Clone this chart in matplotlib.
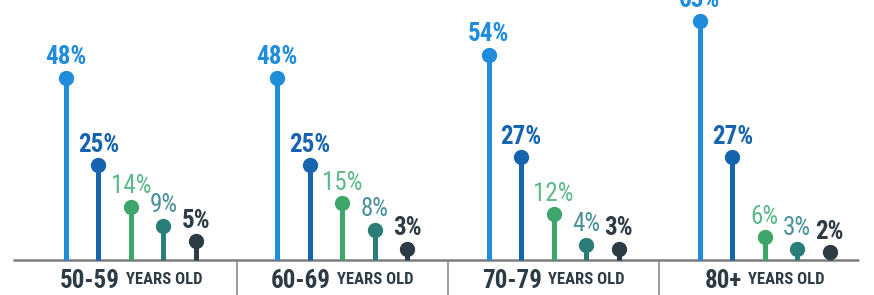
import matplotlib
matplotlib.use('Agg')
import matplotlib.pyplot as plt
from matplotlib import font_manager

# prefer a condensed face if one is installed
names = {f.name for f in font_manager.fontManager.ttflist}
cond = [n for n in ['Liberation Sans Narrow', 'DejaVu Sans Condensed', 'Roboto Condensed',
                    'Open Sans Condensed'] if n in names]
plt.rcParams['font.family'] = cond + ['Roboto', 'DejaVu Sans']
plt.rcParams['font.stretch'] = 'condensed'

# age groups and share for each of the five answers
groups = ['50-59', '60-69', '70-79', '80+']
group_suffix = 'YEARS OLD'
values = [
    [48, 25, 14, 9, 5],
    [48, 25, 15, 8, 3],
    [54, 27, 12, 4, 3],
    [63, 27, 6, 3, 2],
]
stem_colors = ['#1f8ddb', '#1764ae', '#3fa66b', '#2b7d78', '#2d3b44']
label_colors = ['#1f8ddb', '#1764ae', '#5cb98a', '#4a8f9a', '#2d3b44']
label_weights = ['bold', 'bold', 'normal', 'normal', 'bold']

group_gap = 6.5
n_series = 5

fig = plt.figure(figsize=(8.74, 2.95), dpi=100)
ax = fig.add_axes([0, 0, 1, 1])
ax.set_xlim(-2.03, 24.86)
ax.set_ylim(-9.2, 68.4)
ax.axis('off')

# baseline
ax.plot([-1.63, 24.4], [0, 0], color='#7d7d7d', lw=1.8, zorder=1, solid_capstyle='butt')

for g, vals in enumerate(values):
    for i, v in enumerate(vals):
        x = g * group_gap + i
        ax.plot([x, x], [0, v], color=stem_colors[i], lw=3.6, zorder=2, solid_capstyle='butt')
        ax.plot(x, v, 'o', color=stem_colors[i], ms=10, zorder=3)
        ax.annotate(f'{v}%', xy=(x, v), xytext=(0, 6), textcoords='offset points',
                    ha='center', va='bottom', fontsize=18, color=label_colors[i],
                    fontweight=label_weights[i], zorder=4)

# separators between groups
for g in range(len(groups) - 1):
    xs = g * group_gap + (n_series - 1) / 2 + group_gap / 2
    ax.plot([xs, xs], [-0.6, -9.2], color='#8a8a8a', lw=1.2, zorder=1)

# group labels: big number + small suffix, centred as a pair
fig.canvas.draw()
renderer = fig.canvas.get_renderer()
px_per_unit = fig.get_figwidth() * fig.dpi / (24.86 + 2.03)
for g, name in enumerate(groups):
    xc = g * group_gap + (n_series - 1) / 2
    t1 = ax.text(xc, -5.4, name, ha='left', va='center', fontsize=18,
                 fontweight='bold', color='#2d3b44')
    t2 = ax.text(xc, -5.2, group_suffix, ha='left', va='center', fontsize=12,
                 fontweight='bold', color='#2d3b44')
    w1 = t1.get_window_extent(renderer).width
    w2 = t2.get_window_extent(renderer).width
    gap = 6
    total = w1 + gap + w2
    left = xc - total / 2 / px_per_unit
    t1.set_x(left)
    t2.set_x(left + (w1 + gap) / px_per_unit)

fig.savefig('out.png', dpi=100)
